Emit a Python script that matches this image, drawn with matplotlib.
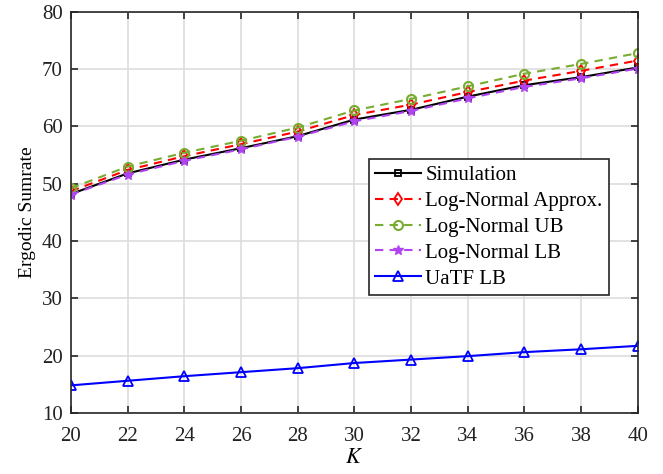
import numpy as np
import matplotlib.pyplot as plt

plt.rcParams['font.family'] = ['Liberation Serif', 'DejaVu Serif']
plt.rcParams['mathtext.fontset'] = 'stix'

K = [20, 22, 24, 26, 28, 30, 32, 34, 36, 38, 40]
sim = [48.2, 51.8, 54.2, 56.2, 58.3, 61.2, 62.9, 65.2, 67.2, 68.6, 70.3]
ln_approx = [48.7, 52.4, 54.8, 56.9, 59.1, 62.0, 63.8, 66.0, 68.0, 69.7, 71.5]
ln_ub = [49.2, 53.0, 55.4, 57.5, 59.8, 62.8, 64.8, 67.0, 69.2, 70.9, 72.8]
ln_lb = [48.1, 51.6, 54.0, 56.0, 58.2, 60.9, 62.7, 64.9, 66.9, 68.4, 70.1]
uatf = [14.8, 15.6, 16.4, 17.1, 17.8, 18.7, 19.3, 19.9, 20.6, 21.1, 21.7]

fig = plt.figure(figsize=(6.63, 4.74), dpi=100)
ax = fig.add_axes([0.107, 0.129, 0.855, 0.846])

ax.plot(K, sim, '-s', color='black', lw=1.5, ms=4.5, mfc='none', mew=1.3, label='Simulation')
ax.plot(K, ln_approx, '--d', color='#FF0000', lw=1.5, ms=6, mfc='none', mew=1.3, label='Log-Normal Approx.',
        dashes=(4, 3))
ax.plot(K, ln_ub, '--o', color='#77AC30', lw=1.5, ms=6.5, mfc='none', mew=1.5, label='Log-Normal UB',
        dashes=(4, 3))
ax.plot(K, ln_lb, '--*', color='#B044F0', lw=1.5, ms=7, mew=1.0, label='Log-Normal LB',
        dashes=(4, 3))
ax.plot(K, uatf, '-^', color='#0000FF', lw=1.5, ms=7.5, mfc='none', mew=1.3, label='UaTF LB')

ax.set_xlim(20, 40)
ax.set_ylim(10, 80)
ax.set_xticks(range(20, 41, 2))
ax.set_yticks(range(10, 81, 10))
ax.grid(True, color='#DDDDDD', lw=1.2)
ax.set_axisbelow(True)
ax.tick_params(direction='in', top=True, right=True, labelsize=15, length=5, width=1.2,
               colors='#262626')
ax.tick_params(axis='x', pad=10)
ax.tick_params(axis='y', pad=6)
ax.tick_params(labelcolor='#222222')
for s in ax.spines.values():
    s.set_linewidth(1.2)
    s.set_color('#262626')

ax.set_xlabel('$K$', fontsize=16, labelpad=2)
ax.set_ylabel('Ergodic Sumrate', fontsize=14, labelpad=4)

leg = ax.legend(loc='upper left', bbox_to_anchor=(0.526, 0.632), fontsize=15,
                fancybox=False, edgecolor='#262626', framealpha=1,
                handlelength=2.2, borderpad=0.3, labelspacing=0.3, handletextpad=0.2,
                borderaxespad=0)
leg.get_frame().set_linewidth(1.2)

fig.savefig('out.png', dpi=100)
